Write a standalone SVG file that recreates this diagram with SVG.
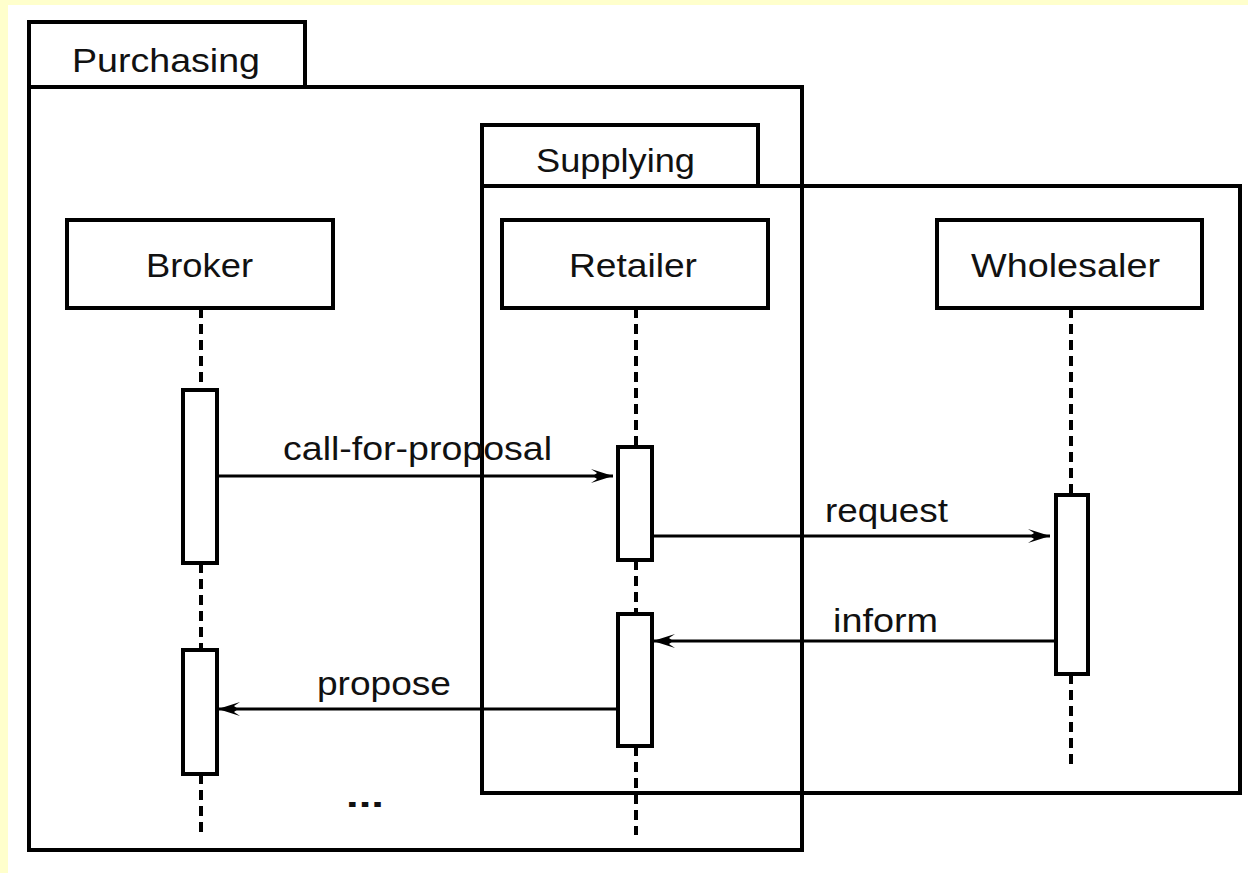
<svg xmlns="http://www.w3.org/2000/svg" width="1248" height="873" viewBox="0 0 1248 873">
<style>
.box{fill:#ffffff;stroke:#000000;stroke-width:4}
.frame{fill:none;stroke:#000000;stroke-width:4}
.life{stroke:#000000;stroke-width:4;stroke-dasharray:10 6;fill:none}
.msg{stroke:#000000;stroke-width:3;fill:none}
text{font-family:"Liberation Sans",Arial,sans-serif;font-size:33px;fill:#111111}
</style>
<defs>
<marker id="arr" markerWidth="26" markerHeight="18" refX="24" refY="9" orient="auto" markerUnits="userSpaceOnUse">
<path d="M2,2 L24,9 L2,16 L8,12 L4,9 L8,6 Z" fill="#000000"/>
</marker>
</defs>
<rect x="0" y="0" width="1248" height="873" fill="#ffffcc"/>
<rect x="8" y="5" width="1240" height="868" fill="#ffffff"/>

<g id="purchasing">
<rect class="frame" x="29" y="22" width="276" height="65"/>
<rect class="frame" x="29" y="87" width="773" height="763"/>
<text x="72" y="72" textLength="188" lengthAdjust="spacingAndGlyphs">Purchasing</text>
</g>
<g id="supplying">
<rect class="frame" x="482" y="125" width="276" height="61"/>
<rect class="frame" x="482" y="186" width="758" height="607"/>
<text x="536" y="172" textLength="159" lengthAdjust="spacingAndGlyphs">Supplying</text>
</g>

<g id="lifelines">
<line class="life" x1="201" y1="308" x2="201" y2="390"/>
<line class="life" x1="201" y1="563" x2="201" y2="650"/>
<line class="life" x1="201" y1="774" x2="201" y2="835"/>
<line class="life" x1="636" y1="308" x2="636" y2="447"/>
<line class="life" x1="636" y1="560" x2="636" y2="614"/>
<line class="life" x1="636" y1="746" x2="636" y2="835"/>
<line class="life" x1="1071" y1="308" x2="1071" y2="495"/>
<line class="life" x1="1071" y1="674" x2="1071" y2="765"/>
</g>

<g id="broker">
<rect class="box" x="67" y="220" width="266" height="88"/>
<text x="146" y="277" textLength="107" lengthAdjust="spacingAndGlyphs">Broker</text>
</g>
<g id="retailer">
<rect class="box" x="502" y="220" width="266" height="88"/>
<text x="569" y="277" textLength="128" lengthAdjust="spacingAndGlyphs">Retailer</text>
</g>
<g id="wholesaler">
<rect class="box" x="937" y="220" width="265" height="88"/>
<text x="971" y="277" textLength="189" lengthAdjust="spacingAndGlyphs">Wholesaler</text>
</g>

<g id="activations">
<rect class="box" x="183" y="390" width="34" height="173"/>
<rect class="box" x="183" y="650" width="34" height="124"/>
<rect class="box" x="618" y="447" width="34" height="113"/>
<rect class="box" x="618" y="614" width="34" height="132"/>
<rect class="box" x="1056" y="495" width="32" height="179"/>
</g>

<g id="connectors">
<line class="msg" x1="217" y1="476" x2="613" y2="476" marker-end="url(#arr)"/>
<line class="msg" x1="652" y1="536" x2="1050" y2="536" marker-end="url(#arr)"/>
<line class="msg" x1="1056" y1="641" x2="653" y2="641" marker-end="url(#arr)"/>
<line class="msg" x1="618" y1="709" x2="218" y2="709" marker-end="url(#arr)"/>
</g>

<g id="labels">
<text x="283" y="460" textLength="269" lengthAdjust="spacingAndGlyphs">call-for-proposal</text>
<text x="825" y="522" textLength="123" lengthAdjust="spacingAndGlyphs">request</text>
<text x="833" y="632" textLength="105" lengthAdjust="spacingAndGlyphs">inform</text>
<text x="317" y="695" textLength="134" lengthAdjust="spacingAndGlyphs">propose</text>
<text x="346" y="807" font-weight="bold" font-size="38" textLength="38" lengthAdjust="spacingAndGlyphs">...</text>
</g>
</svg>
